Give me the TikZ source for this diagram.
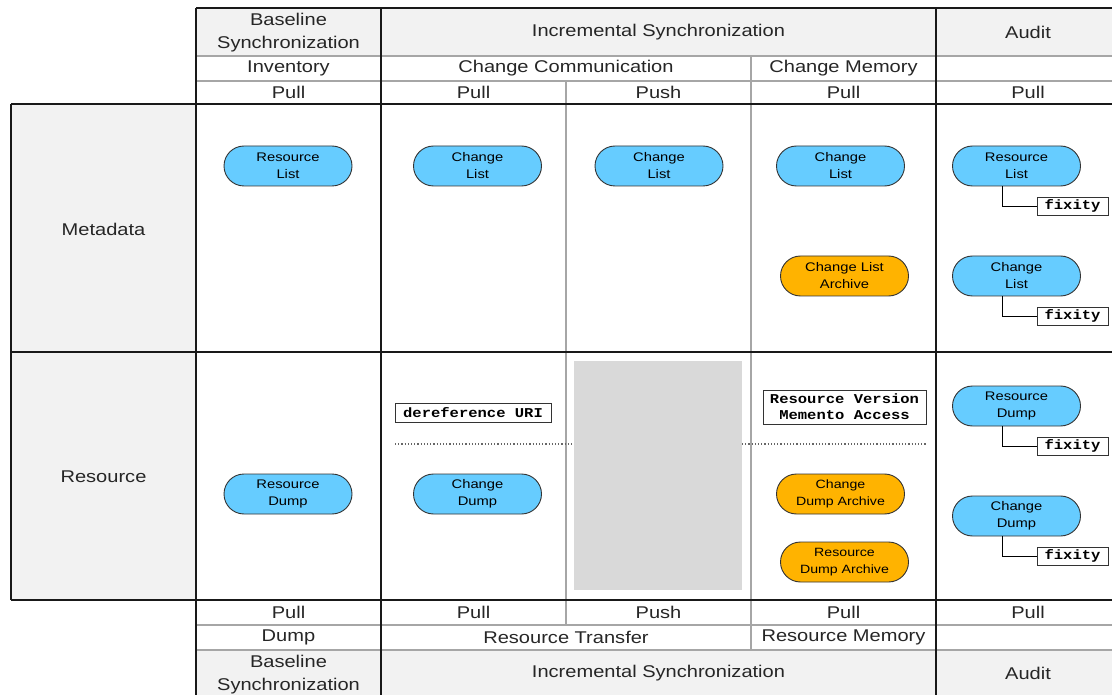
\documentclass[tikz,border=0pt]{standalone}
\usepackage{fontspec}
\setmainfont{Liberation Sans}[FakeStretch=1.18]
\setmonofont{Liberation Mono}[FakeStretch=1.15]
\definecolor{pillblue}{HTML}{66CCFF}
\definecolor{pillorange}{HTML}{FFB300}
\definecolor{cellgray}{HTML}{F2F2F2}
\definecolor{pushgray}{HTML}{D9D9D9}
\begin{document}
\begin{tikzpicture}[x=1pt,y=-1pt,
  thickline/.style={line width=2.2pt,black!90},
  thinline/.style={line width=1.2pt,black!35},
  head/.style={font=\fontsize{17}{23}\selectfont,align=center,inner sep=0pt,text=black!85},
  pill/.style={draw=black!80,line width=0.9pt,rounded corners=20pt,minimum width=128pt,
    minimum height=40pt,align=center,inner sep=0pt,font=\fontsize{12.5}{17}\selectfont},
  bluepill/.style={pill,fill=pillblue},
  orangepill/.style={pill,fill=pillorange},
  codebox/.style={draw=black!80,line width=0.9pt,fill=white,inner sep=0pt,align=center,
    font=\fontsize{13.5}{16}\selectfont\ttfamily\bfseries},
  fixbox/.style={codebox,minimum width=71pt,minimum height=18pt}]
  \useasboundingbox (0,0) rectangle (1112,695);
  \clip (0,0) rectangle (1112,695);
  % shaded cells
  \fill[cellgray] (196,8) rectangle (1122,56);
  \fill[cellgray] (196,650) rectangle (1122,700);
  \fill[cellgray] (11,104) rectangle (196,600);
  \fill[pushgray] (574,361) rectangle (742,590);
  % thin rules
  \draw[thinline] (196,56) -- (1122,56) (196,81) -- (1122,81);
  \draw[thinline] (196,625) -- (1122,625) (196,650) -- (1122,650);
  \draw[thinline] (751,56) -- (751,650) (566,81) -- (566,625);
  % thick rules
  \draw[thickline] (196,8) -- (1122,8);
  \draw[thickline] (11,104) -- (1122,104) (11,352) -- (1122,352) (11,600) -- (1122,600);
  \draw[thickline] (11,104) -- (11,600);
  \draw[thickline] (196,8) -- (196,700) (381,8) -- (381,700) (936,8) -- (936,700);
  %
  % column headers (top)
  \draw (288.5,33) node[head] (tbase) {Baseline\\Synchronization};
  \draw (658.5,32) node[head] (tincr) {Incremental Synchronization};
  \draw (1028,32) node[head] (taud) {Audit};
  \draw (288.5,68.5) node[head] (tinv) {Inventory};
  \draw (566,68.5) node[head] (tcc) {Change Communication};
  \draw (843.5,68.5) node[head] (tcm) {Change Memory};
  \draw (288.5,92.5) node[head] (tp1) {Pull};
  \draw (473.5,92.5) node[head] (tp2) {Pull};
  \draw (658.5,92.5) node[head] (tp3) {Push};
  \draw (843.5,92.5) node[head] (tp4) {Pull};
  \draw (1028,92.5) node[head] (tp5) {Pull};
  % column headers (bottom)
  \draw (288.5,612.5) node[head] (bp1) {Pull};
  \draw (473.5,612.5) node[head] (bp2) {Pull};
  \draw (658.5,612.5) node[head] (bp3) {Push};
  \draw (843.5,612.5) node[head] (bp4) {Pull};
  \draw (1028,612.5) node[head] (bp5) {Pull};
  \draw (288.5,637.5) node[head] (bdump) {Dump};
  \draw (566,637.5) node[head] (brt) {Resource Transfer};
  \draw (843.5,637.5) node[head] (brm) {Resource Memory};
  \draw (288.5,675) node[head] (bbase) {Baseline\\Synchronization};
  \draw (658.5,673) node[head] (bincr) {Incremental Synchronization};
  \draw (1028,673) node[head] (baud) {Audit};
  % row headers
  \draw (103.5,229) node[head] (lmeta) {Metadata};
  \draw (103.5,477) node[head] (lres) {Resource};
  %
  % metadata row
  \draw (288,166) node[bluepill] (mrl) {Resource\\List};
  \draw (477.5,166) node[bluepill] (mcl1) {Change\\List};
  \draw (659,166) node[bluepill] (mcl2) {Change\\List};
  \draw (840.5,166) node[bluepill] (mcl3) {Change\\List};
  \draw (844.5,276) node[orangepill] (mcla) {Change List\\Archive};
  \draw (1016.5,166) node[bluepill] (arl) {Resource\\List};
  \draw (1016.5,276) node[bluepill] (acl) {Change\\List};
  \draw (1072.5,206) node[fixbox] (fx1) {fixity};
  \draw (1072.5,316) node[fixbox] (fx2) {fixity};
  %
  % resource row
  \draw[line width=1.2pt,dotted,black!60] (395,444) -- (574,444) (742,444) -- (926,444);
  \draw (473,412.5) node[codebox,minimum width=156pt,minimum height=19pt] (deref) {dereference URI};
  \draw (844.5,407) node[codebox,minimum width=163pt,minimum height=34pt] (memento) {Resource Version\\Memento Access};
  \draw (288,494) node[bluepill] (rrd) {Resource\\Dump};
  \draw (477.5,494) node[bluepill] (rcd) {Change\\Dump};
  \draw (840.5,494) node[orangepill,font=\fontsize{12}{17}\selectfont] (rcda) {Change\\Dump Archive};
  \draw (844.5,562) node[orangepill,font=\fontsize{12}{17}\selectfont] (rrda) {Resource\\Dump Archive};
  \draw (1016.5,406) node[bluepill] (ard) {Resource\\Dump};
  \draw (1016.5,516) node[bluepill] (acd) {Change\\Dump};
  \draw (1072.5,446) node[fixbox] (fx3) {fixity};
  \draw (1072.5,556) node[fixbox] (fx4) {fixity};
  %
  % fixity links
  \draw[line width=0.9pt] ([xshift=-14pt]arl.south) |- (fx1.west);
  \draw[line width=0.9pt] ([xshift=-14pt]acl.south) |- (fx2.west);
  \draw[line width=0.9pt] ([xshift=-14pt]ard.south) |- (fx3.west);
  \draw[line width=0.9pt] ([xshift=-14pt]acd.south) |- (fx4.west);
\end{tikzpicture}
\end{document}
